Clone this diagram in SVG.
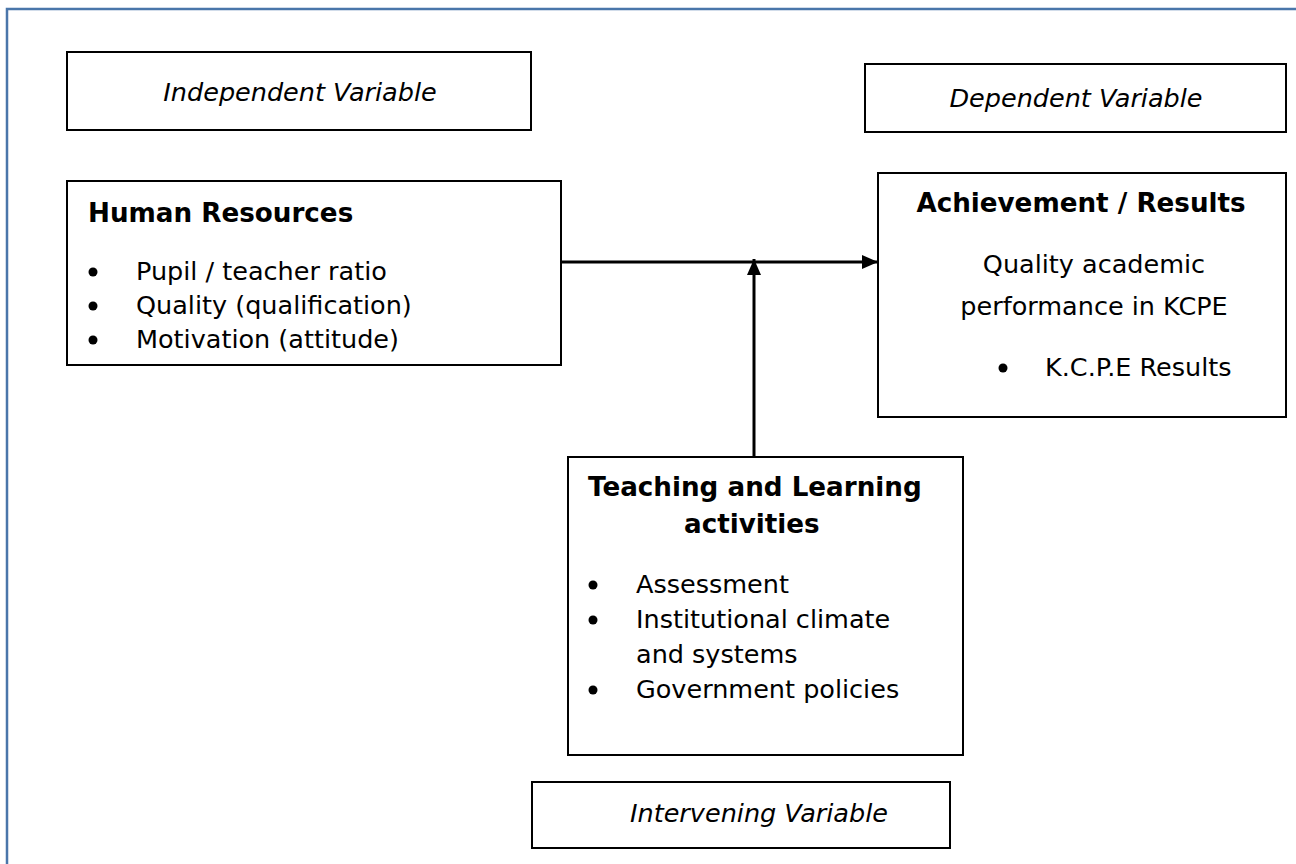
<svg xmlns="http://www.w3.org/2000/svg" width="1296" height="864" viewBox="0 0 1296 864">
<defs>
<style>
.box{fill:#fff;stroke:#000;stroke-width:2}
.t{font-family:"DejaVu Sans","Liberation Sans",sans-serif;font-size:25.5px;fill:#000}
.b{font-weight:bold;font-size:26.2px}
.i{font-style:italic}
.c{text-anchor:middle}
.conn{stroke:#000;stroke-width:3;fill:none}
.dot{fill:#000}
</style>
<marker id="arr" viewBox="0 0 16 14" refX="16" refY="7" markerWidth="16" markerHeight="14" markerUnits="userSpaceOnUse" orient="auto">
<path d="M0,0 L16,7 L0,14 Z" fill="#000"/>
</marker>
</defs>
<rect width="1296" height="864" fill="#fff"/>
<path d="M7,870 V9 H1300" fill="none" stroke="#4A76AA" stroke-width="2.5"/>

<g id="independent-label">
<rect class="box" x="67" y="52" width="464" height="78"/>
<text class="t i c" x="300" y="101">Independent Variable</text>
</g>

<g id="dependent-label">
<rect class="box" x="865" y="64" width="421" height="68"/>
<text class="t i c" x="1076" y="107">Dependent Variable</text>
</g>

<g id="human-resources">
<rect class="box" x="67" y="181" width="494" height="184"/>
<text class="t b" x="88" y="222">Human Resources</text>
<circle class="dot" cx="93" cy="272" r="4.5"/>
<text class="t" x="136" y="280">Pupil / teacher ratio</text>
<circle class="dot" cx="93" cy="306" r="4.5"/>
<text class="t" x="136" y="314">Quality (qualification)</text>
<circle class="dot" cx="93" cy="340" r="4.5"/>
<text class="t" x="136" y="348">Motivation (attitude)</text>
</g>

<g id="achievement">
<rect class="box" x="878" y="173" width="408" height="244"/>
<text class="t b c" x="1081" y="212">Achievement / Results</text>
<text class="t c" x="1094" y="273">Quality academic</text>
<text class="t c" x="1094" y="315">performance in KCPE</text>
<circle class="dot" cx="1003" cy="368" r="4.5"/>
<text class="t" x="1045" y="376">K.C.P.E Results</text>
</g>

<g id="teaching-learning">
<rect class="box" x="568" y="457" width="395" height="298"/>
<text class="t b" x="588" y="496">Teaching and Learning</text>
<text class="t b" x="684" y="533">activities</text>
<circle class="dot" cx="593" cy="585" r="4.5"/>
<text class="t" x="636" y="593">Assessment</text>
<circle class="dot" cx="593" cy="620" r="4.5"/>
<text class="t" x="636" y="628">Institutional climate</text>
<text class="t" x="636" y="663">and systems</text>
<circle class="dot" cx="593" cy="690" r="4.5"/>
<text class="t" x="636" y="698">Government policies</text>
</g>

<g id="intervening-label">
<rect class="box" x="532" y="782" width="418" height="66"/>
<text class="t i" x="630" y="822">Intervening Variable</text>
</g>

<g id="connectors">
<line class="conn" x1="561" y1="262" x2="878" y2="262" marker-end="url(#arr)"/>
<line class="conn" x1="754" y1="457" x2="754" y2="259" marker-end="url(#arr)"/>
</g>
</svg>
